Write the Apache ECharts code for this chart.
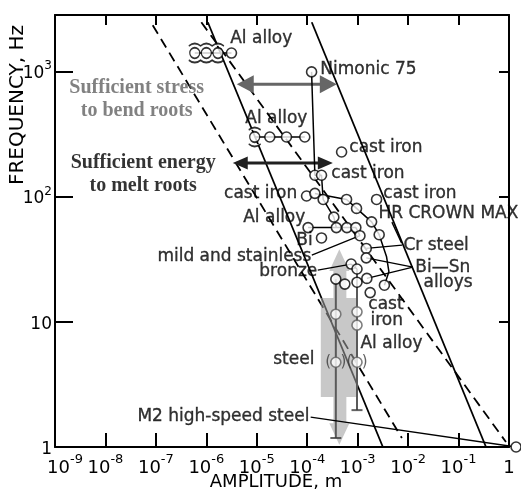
<!DOCTYPE html>
<html><head><meta charset="utf-8">
<script src="https://cdn.jsdelivr.net/npm/echarts@6/dist/echarts.min.js"></script>
<style>html,body{margin:0;padding:0;background:#fff}#c{width:521px;height:490px}</style>
</head><body><div id="c"></div>
<script>
// ---------------- data (amplitude in m, frequency in Hz) ----------------
const xTickExponents = [-9,-8,-7,-6,-5,-4,-3,-2,-1,0];
const yTickExponents = [0,1,2,3];

// reference lines
const solidLine1  = [[1.07e-6, 2466], [3.16e-3, 1]];
const solidLine2  = [[1.23e-4, 2466], [0.35, 1]];
const dashedLine1 = [[8.65e-8, 2334], [7.53e-3, 1.18]];
const dashedLine2 = [[7.96e-7, 2466], [0.871, 1.096]];

// connected measurement groups
const alAlloyTop   = [[5.9e-7,1400],[1.0e-6,1400],[1.7e-6,1400],[3.15e-6,1400]];
const alAlloyMid   = [[9.1e-6,299],[1.81e-5,299],[3.88e-5,299],[8.95e-5,299]];
const nimonicCurve = [[1.22e-4,990],[1.42e-4,148],[1.92e-4,148],[2.07e-4,94.8],[3.37e-4,68.5],[3.78e-4,56.5]];
const castIronChain= [[1.42e-4,106],[6.03e-4,94.8],[9.5e-4,80.4],[1.89e-3,62.8],[2.67e-3,49.6],[3.74e-3,33.0],[4.16e-3,25.1],[3.39e-3,19.6]];
const alAlloyLow   = [[1.04e-4,56.5],[3.78e-4,56.5],[6.11e-4,56.5],[9.2e-4,56.5],[1.11e-3,48.7]];
const bronzePair   = [[7.43e-4,28.9],[9.7e-4,26.4]];
const steelLeft    = [[3.69e-4,21.9],[3.69e-4,1.18]];
const steelRight   = [[9.7e-4,26.4],[9.7e-4,1.97]];

// leader lines
const leaderMild   = [[1.233e-4,34.1],[1.11e-3,48.7]];
const leaderBronze = [[1.62e-4,25.9],[7.43e-4,28.9]];
const leaderCr1    = [[7.6e-3,41.0],[1.48e-3,38.5]];
const leaderCr2    = [[7.4e-3,42.5],[4.77e-3,62.5]];
const leaderBiSn1  = [[1.245e-2,27.3],[1.48e-3,32.4]];
const leaderBiSn2  = [[1.245e-2,27.3],[1.52e-3,22.2]];
const leaderM2     = [[1.17e-4,1.735],[1.38,1.0]];

// points
const circlesBlack = [
  [3.15e-6,1400],
  [1.81e-5,299],[3.88e-5,299],[8.95e-5,299],
  [1.22e-4,990],
  [4.8e-4,227],
  [1.42e-4,148],[1.92e-4,148],
  [9.7e-5,101],[1.42e-4,106],[2.07e-4,94.8],
  [6.03e-4,94.8],[9.5e-4,80.4],[1.89e-3,62.8],
  [2.37e-3,94.8],
  [3.37e-4,68.5],
  [1.04e-4,56.5],[3.78e-4,56.5],[6.11e-4,56.5],[9.2e-4,56.5],[1.11e-3,48.7],
  [1.92e-4,46.7],
  [2.67e-3,49.6],
  [1.48e-3,38.5],[1.48e-3,32.4],
  [7.43e-4,28.9],[9.7e-4,26.4],
  [3.69e-4,21.9],[5.57e-4,20.0],[9.7e-4,20.7],[1.52e-3,22.2],[3.39e-3,19.6],
  [1.77e-3,17.1],
  [1.38,1.0]
];
const circlesGray = [[3.69e-4,11.5],[9.7e-4,12.0],[9.7e-4,9.4]];
const steelPoints = [[3.69e-4,4.75],[9.7e-4,4.75]];
const wavyPoints  = [[5.9e-7,1400],[1.0e-6,1400],[1.7e-6,1400],[9.1e-6,299]];
const capPoints   = [[3.69e-4,1.18],[9.7e-4,1.97]];

// big gray vertical double arrow outline
const grayArrowOutline = [
  [4.33e-4,38],[6.85e-4,25.4],[5.97e-4,25.4],[5.97e-4,15.5],[1.01e-3,15.5],[1.01e-3,2.51],
  [5.97e-4,2.51],[5.97e-4,1.55],[6.85e-4,1.55],[4.33e-4,1.04],[2.74e-4,1.55],[3.30e-4,1.55],
  [3.30e-4,2.51],[1.86e-4,2.51],[1.86e-4,15.5],[3.30e-4,15.5],[3.30e-4,25.4],[2.74e-4,25.4]
];
// horizontal double arrows [amp from, amp to, frequency]
const doubleArrows = [[4.01e-6, 3.86e-4, 789],[3.34e-6, 3.22e-4, 185]];

// labels: [text, amplitude, frequency]
const labelsLeft = [
  ['Al alloy', 2.91e-6, 1837],
  ['Nimonic 75', 1.78e-4, 1040],
  ['Al alloy', 5.78e-6, 422],
  ['cast iron', 6.68e-4, 248],
  ['cast iron', 2.94e-4, 154],
  ['cast iron', 3.16e-3, 106],
  ['HR CROWN MAX', 2.52e-3, 73.8],
  ['Al alloy', 5.27e-6, 68.5],
  ['Bi', 5.94e-5, 44.9],
  ['Cr steel', 7.88e-3, 40.9],
  ['Bi\u2014Sn', 1.36e-2, 27.3],
  ['alloys', 1.97e-2, 20.7],
  ['cast', 1.59e-3, 13.6],
  ['iron', 1.75e-3, 10.3],
  ['Al alloy', 1.11e-3, 6.64]
];
const labelsRight = [
  ['cast iron', 6.5e-5, 106],
  ['mild and stainless', 1.233e-4, 33.4],
  ['bronze', 1.62e-4, 25.4],
  ['steel', 1.42e-4, 4.95],
  ['M2 high-speed steel', 1.13e-4, 1.735]
];
const noteTexts = [
  ['Sufficient stress\nto bend roots', 4.16e-8, 593],
  ['Sufficient energy\nto melt roots', 5.6e-8, 150]
];

// ---------------- chart ----------------
const FONT = 'DejaVu Sans';
const chart = echarts.init(document.getElementById('c'), null, {renderer:'canvas'});

function lineSeries(data, opts) {
  return Object.assign({
    type:'line', data:data, showSymbol:false, symbol:'none', silent:true, animation:false,
    lineStyle:{color:'#000', width:1.5}, z:3
  }, opts || {});
}
function expOf(v){ return Math.round(Math.log10(v)); }
function isDecade(v){ return Math.abs(Math.log10(v) - expOf(v)) < 0.01; }

const arrowStyles = [
  {color:'#666666', width:3, len:17, half:9},
  {color:'#202020', width:3, len:15, half:6.5}
];
const noteStyles = [
  {color:'#626262'},
  {color:'#000'}
];
const labelText = {color:'#000', fontFamily:FONT, fontSize:17, textBorderColor:'#000', textBorderWidth:0.35};

const option = {
  animation:false,
  backgroundColor:'#fff',
  grid:{left:55, right:12, top:15, bottom:43, containLabel:false},
  xAxis:[{
    type:'log', logBase:10, min:1e-9, max:1, splitNumber:10,
    axisLine:{show:true, onZero:false, lineStyle:{color:'#000', width:2}},
    axisTick:{show:true, inside:true, length:14, lineStyle:{color:'#000', width:2}},
    splitLine:{show:false}, minorTick:{show:false},
    axisLabel:{
      show:true, showMinLabel:true, showMaxLabel:true, margin:6, color:'#000',
      formatter:function(v){
        if(!isDecade(v)) return '';
        const e = expOf(v);
        if(xTickExponents.indexOf(e) < 0) return '';
        if(e === 0) return '{b|1}';
        const base = (e === xTickExponents[0]) ? '{b0|10}' : '{b|10}';
        return base + '{s|-' + (-e) + '}';
      },
      rich:{
        b:{fontFamily:FONT, fontSize:18, color:'#000', lineHeight:24, verticalAlign:'bottom'},
        b0:{fontFamily:FONT, fontSize:18, color:'#000', lineHeight:24, verticalAlign:'bottom', padding:[0,0,0,20]},
        s:{fontFamily:FONT, fontSize:13, color:'#000', lineHeight:14, verticalAlign:'top'}
      }
    }
  },{
    type:'log', logBase:10, min:1e-9, max:1, splitNumber:10, position:'top',
    axisLine:{show:true, onZero:false, lineStyle:{color:'#000', width:2}},
    axisTick:{show:true, inside:true, length:10, lineStyle:{color:'#000', width:2}},
    splitLine:{show:false}, axisLabel:{show:false}
  }],
  yAxis:[{
    type:'log', logBase:10, min:1, max:2818, splitNumber:4,
    axisLine:{show:true, onZero:false, lineStyle:{color:'#000', width:2}},
    axisTick:{show:true, inside:true, length:18, lineStyle:{color:'#000', width:2}},
    splitLine:{show:false}, minorTick:{show:false},
    axisLabel:{
      show:true, margin:3, color:'#000',
      formatter:function(v){
        if(!isDecade(v)) return '';
        const e = expOf(v);
        if(yTickExponents.indexOf(e) < 0) return '';
        if(e === 0) return '{b|1}';
        if(e === 1) return '{b|10}';
        return '{b|10}{s|' + e + '}';
      },
      rich:{
        b:{fontFamily:FONT, fontSize:17, color:'#000', lineHeight:22, verticalAlign:'bottom'},
        s:{fontFamily:FONT, fontSize:12, color:'#000', lineHeight:13, verticalAlign:'top'}
      }
    }
  },{
    type:'log', logBase:10, min:1, max:2818, splitNumber:4, position:'right',
    axisLine:{show:true, onZero:false, lineStyle:{color:'#000', width:2}},
    axisTick:{show:true, inside:true, length:10, lineStyle:{color:'#000', width:2}},
    splitLine:{show:false}, axisLabel:{show:false}
  }],
  graphic:[
    {type:'text', x:18, y:105, rotation:Math.PI/2, silent:true,
     style:{text:'FREQUENCY, Hz', font:'20px "DejaVu Sans"', fill:'#000', align:'center', verticalAlign:'middle'}},
    {type:'text', x:276, y:482, silent:true,
     style:{text:'AMPLITUDE, m', font:'18px "DejaVu Sans"', fill:'#000', align:'center', verticalAlign:'middle'}}
  ],
  series:[
    // reference lines
    lineSeries(solidLine1, {lineStyle:{color:'#000', width:1.8}, z:1}),
    lineSeries(solidLine2, {lineStyle:{color:'#000', width:1.8}, z:1}),
    lineSeries(dashedLine1, {lineStyle:{color:'#000', width:1.8, type:[10,6]}, z:1}),
    lineSeries(dashedLine2, {lineStyle:{color:'#000', width:1.8, type:[10,6]}, z:1}),
    // big gray arrow
    {
      type:'custom', silent:true, z:2, animation:false,
      data:[grayArrowOutline[0]], encode:{x:0, y:1},
      renderItem:function(params, api){
        const pts = grayArrowOutline.map(function(p){ return api.coord(p); });
        return {type:'polygon', shape:{points:pts}, style:{fill:'rgba(158,158,158,0.57)'}};
      }
    },
    // horizontal double arrows
    {
      type:'custom', silent:true, z:3, animation:false,
      data:doubleArrows, encode:{x:[0,1], y:2},
      renderItem:function(params, api){
        const st = arrowStyles[params.dataIndex];
        const p1 = api.coord([api.value(0), api.value(2)]);
        const p2 = api.coord([api.value(1), api.value(2)]);
        const y = p1[1];
        return {type:'group', children:[
          {type:'line', shape:{x1:p1[0]+st.len-1, y1:y, x2:p2[0]-st.len+1, y2:y}, style:{stroke:st.color, lineWidth:st.width}},
          {type:'polygon', shape:{points:[[p1[0],y],[p1[0]+st.len,y-st.half],[p1[0]+st.len,y+st.half]]}, style:{fill:st.color}},
          {type:'polygon', shape:{points:[[p2[0],y],[p2[0]-st.len,y-st.half],[p2[0]-st.len,y+st.half]]}, style:{fill:st.color}}
        ]};
      }
    },
    // connectors
    lineSeries(alAlloyTop),
    lineSeries(alAlloyMid),
    lineSeries(nimonicCurve),
    lineSeries(castIronChain),
    lineSeries(alAlloyLow),
    lineSeries(bronzePair),
    lineSeries(steelLeft, {lineStyle:{color:'#5a5a5a', width:2}}),
    lineSeries(steelRight, {lineStyle:{color:'#5a5a5a', width:2}}),
    lineSeries(leaderMild, {lineStyle:{color:'#000', width:1.3}}),
    lineSeries(leaderBronze, {lineStyle:{color:'#000', width:1.3}}),
    lineSeries(leaderCr1, {lineStyle:{color:'#000', width:1.3}}),
    lineSeries(leaderCr2, {lineStyle:{color:'#000', width:1.3}}),
    lineSeries(leaderBiSn1, {lineStyle:{color:'#000', width:1.3}}),
    lineSeries(leaderBiSn2, {lineStyle:{color:'#000', width:1.3}}),
    lineSeries(leaderM2, {lineStyle:{color:'#000', width:1.3}, clip:false}),
    // caps
    {type:'scatter', data:capPoints, symbol:'rect', symbolSize:[11,2], silent:true, z:4,
     itemStyle:{color:'#3c3c3c'}},
    // circles
    {type:'scatter', data:circlesBlack, symbol:'circle', symbolSize:10, silent:true, z:4, clip:false,
     itemStyle:{color:'#fff', borderColor:'#000', borderWidth:1.6}},
    {type:'scatter', data:circlesGray, symbol:'circle', symbolSize:10, silent:true, z:4,
     itemStyle:{color:'#fff', borderColor:'#5e5e5e', borderWidth:1.6}},
    {type:'scatter', data:steelPoints, symbol:'circle', symbolSize:10, silent:true, z:4,
     itemStyle:{color:'#fff', borderColor:'#5e5e5e', borderWidth:1.6},
     label:{show:true, position:'inside', formatter:'(  )', color:'#3a3a3a', fontFamily:FONT, fontSize:15}},
    {type:'scatter', data:wavyPoints, silent:true, z:4,
     symbol:'path://M1,6 Q10,-1 19,6 M2.5,16 A7.5,7.5 0 1 1 17.5,16 A7.5,7.5 0 1 1 2.5,16 M1,26 Q10,33 19,26',
     symbolSize:[12,19], symbolKeepAspect:false,
     itemStyle:{color:'#fff', borderColor:'#000', borderWidth:1.5}},
    // labels anchored left
    {type:'scatter', silent:true, z:5, symbol:'circle', symbolSize:1, itemStyle:{color:'rgba(0,0,0,0)'},
     data:labelsLeft.map(function(l){ return {name:l[0], value:[l[1], l[2]]}; }),
     label:Object.assign({show:true, position:'right', distance:0, formatter:'{b}',
            align:'left', verticalAlign:'middle'}, labelText)},
    // labels anchored right
    {type:'scatter', silent:true, z:5, symbol:'circle', symbolSize:1, itemStyle:{color:'rgba(0,0,0,0)'},
     data:labelsRight.map(function(l){ return {name:l[0], value:[l[1], l[2]]}; }),
     label:Object.assign({show:true, position:'left', distance:0, formatter:'{b}',
            align:'right', verticalAlign:'middle'}, labelText)},
    // serif notes
    {type:'scatter', silent:true, z:5, symbol:'circle', symbolSize:1, itemStyle:{color:'rgba(0,0,0,0)'},
     data:noteTexts.map(function(l, i){ return {name:l[0], value:[l[1], l[2]],
        label:{color:noteStyles[i].color}}; }),
     label:{show:true, position:'inside', formatter:'{b}', fontFamily:'Liberation Serif', fontWeight:'bold',
            fontSize:20, lineHeight:23, align:'center', verticalAlign:'middle'}}
  ]
};
chart.setOption(option);
</script>
</body></html>
